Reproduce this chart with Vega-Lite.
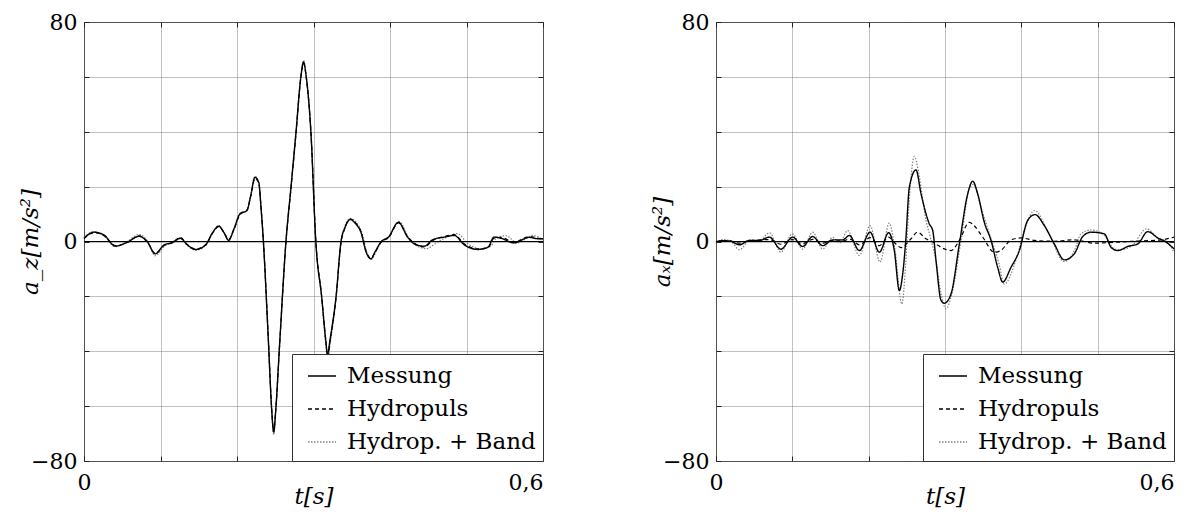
{
  "$schema": "https://vega.github.io/schema/vega-lite/v6.json",
  "background": "white",
  "padding": {"left": 18, "top": 10, "right": 5, "bottom": 5},
  "config": {
    "font": "DejaVu Serif",
    "view": {"stroke": "#222", "strokeWidth": 1},
    "axis": {
      "labelFont": "DejaVu Serif", "labelFontSize": 22, "labelColor": "black",
      "titleFont": "DejaVu Serif", "titleFontSize": 23, "titleFontWeight": "normal", "titleFontStyle": "italic", "titleColor": "black",
      "tickColor": "#222", "domain": false, "labelOverlap": false, "labelFlush": false
    },
    "legend": {
      "labelFont": "DejaVu Serif", "labelFontSize": 23, "labelColor": "black", "labelLimit": 400,
      "orient": "bottom-right", "offset": 0, "padding": 7,
      "strokeColor": "#333", "fillColor": "white", "cornerRadius": 0,
      "symbolType": "stroke", "symbolSize": 784, "symbolStrokeWidth": 1.3,
      "symbolOffset": 8, "labelOffset": 10, "rowPadding": 6
    }
  },
  "datasets": {
    "lm": [{"t":0,"a":1.2},{"t":0.013,"a":3.4},{"t":0.026,"a":2.4},{"t":0.041,"a":-1.7},{"t":0.057,"a":-0.2},{"t":0.072,"a":1.9},{"t":0.083,"a":-0.2},{"t":0.093,"a":-4.5},{"t":0.105,"a":-1.2},{"t":0.115,"a":-0.5},{"t":0.126,"a":1.2},{"t":0.135,"a":-1.2},{"t":0.146,"a":-2.9},{"t":0.159,"a":-1.2},{"t":0.168,"a":3.2},{"t":0.176,"a":5.6},{"t":0.183,"a":3.2},{"t":0.189,"a":0.4},{"t":0.196,"a":4.6},{"t":0.204,"a":10.1},{"t":0.213,"a":11.3},{"t":0.218,"a":16.8},{"t":0.2235,"a":23.4},{"t":0.2285,"a":21.5},{"t":0.2315,"a":12},{"t":0.2345,"a":0},{"t":0.241,"a":-36},{"t":0.2455,"a":-62},{"t":0.248,"a":-69.5},{"t":0.2505,"a":-62},{"t":0.256,"a":-36},{"t":0.264,"a":0},{"t":0.2706,"a":19.8},{"t":0.277,"a":39.3},{"t":0.2835,"a":60},{"t":0.287,"a":65.4},{"t":0.2905,"a":60},{"t":0.2967,"a":39.3},{"t":0.303,"a":0},{"t":0.3107,"a":-20.3},{"t":0.316,"a":-36},{"t":0.3185,"a":-41.6},{"t":0.321,"a":-37},{"t":0.3294,"a":-20.3},{"t":0.336,"a":0},{"t":0.341,"a":5},{"t":0.348,"a":8},{"t":0.355,"a":6.5},{"t":0.362,"a":3.4},{"t":0.369,"a":-4},{"t":0.375,"a":-6.3},{"t":0.381,"a":-3.5},{"t":0.388,"a":-0.2},{"t":0.398,"a":1.6},{"t":0.411,"a":7},{"t":0.423,"a":1.6},{"t":0.434,"a":-1.2},{"t":0.445,"a":-1.7},{"t":0.456,"a":0.7},{"t":0.471,"a":1.6},{"t":0.484,"a":2.2},{"t":0.497,"a":-1.2},{"t":0.515,"a":-2.9},{"t":0.528,"a":-2.1},{"t":0.536,"a":1.6},{"t":0.545,"a":1.2},{"t":0.562,"a":-0.5},{"t":0.582,"a":1.5},{"t":0.593,"a":1},{"t":0.6,"a":1}],
    "lh": [{"t":0,"a":1},{"t":0.013,"a":3.2},{"t":0.026,"a":2.2},{"t":0.041,"a":-1.5},{"t":0.057,"a":-0.3},{"t":0.072,"a":2.1},{"t":0.083,"a":-0.3},{"t":0.093,"a":-4.3},{"t":0.105,"a":-1.4},{"t":0.115,"a":-0.4},{"t":0.126,"a":1.4},{"t":0.135,"a":-1.1},{"t":0.146,"a":-2.7},{"t":0.159,"a":-1.3},{"t":0.168,"a":3},{"t":0.176,"a":5.4},{"t":0.183,"a":3.3},{"t":0.189,"a":0.6},{"t":0.196,"a":4.4},{"t":0.204,"a":9.8},{"t":0.213,"a":11.5},{"t":0.218,"a":16.5},{"t":0.2235,"a":23},{"t":0.2285,"a":21.2},{"t":0.2315,"a":12.2},{"t":0.2345,"a":0.3},{"t":0.241,"a":-35.5},{"t":0.2455,"a":-61.5},{"t":0.248,"a":-69.2},{"t":0.2505,"a":-61.8},{"t":0.256,"a":-36.2},{"t":0.264,"a":-0.3},{"t":0.2706,"a":19.5},{"t":0.277,"a":39},{"t":0.2835,"a":59.8},{"t":0.287,"a":65},{"t":0.2905,"a":59.8},{"t":0.2967,"a":39.6},{"t":0.303,"a":0.4},{"t":0.3107,"a":-20},{"t":0.316,"a":-35.8},{"t":0.3185,"a":-41.8},{"t":0.321,"a":-37.4},{"t":0.3294,"a":-20.6},{"t":0.336,"a":-0.4},{"t":0.341,"a":4.8},{"t":0.348,"a":8.2},{"t":0.355,"a":6.8},{"t":0.362,"a":3.6},{"t":0.369,"a":-3.8},{"t":0.375,"a":-6},{"t":0.381,"a":-3.7},{"t":0.388,"a":-0.4},{"t":0.398,"a":1.4},{"t":0.411,"a":6.8},{"t":0.423,"a":1.8},{"t":0.434,"a":-1},{"t":0.445,"a":-2},{"t":0.456,"a":0.4},{"t":0.471,"a":1.8},{"t":0.484,"a":2.5},{"t":0.497,"a":-0.8},{"t":0.515,"a":-2.7},{"t":0.528,"a":-2.3},{"t":0.536,"a":1.2},{"t":0.545,"a":1.5},{"t":0.562,"a":-0.3},{"t":0.582,"a":1.8},{"t":0.593,"a":1.2},{"t":0.6,"a":0.8}],
    "lb": [{"t":0,"a":1.5},{"t":0.013,"a":3.6},{"t":0.026,"a":2},{"t":0.041,"a":-1.9},{"t":0.057,"a":0.1},{"t":0.072,"a":2.6},{"t":0.083,"a":0.2},{"t":0.093,"a":-5.2},{"t":0.105,"a":-1.8},{"t":0.115,"a":-0.2},{"t":0.126,"a":1},{"t":0.135,"a":-1.5},{"t":0.146,"a":-3.2},{"t":0.159,"a":-1.5},{"t":0.168,"a":3},{"t":0.176,"a":5.8},{"t":0.183,"a":3.4},{"t":0.189,"a":0.8},{"t":0.196,"a":4.2},{"t":0.204,"a":10.4},{"t":0.213,"a":11},{"t":0.218,"a":17.2},{"t":0.2235,"a":23.8},{"t":0.2285,"a":21},{"t":0.2315,"a":11.5},{"t":0.2345,"a":-0.5},{"t":0.241,"a":-37},{"t":0.2455,"a":-63},{"t":0.248,"a":-70.5},{"t":0.2505,"a":-62.5},{"t":0.256,"a":-36.5},{"t":0.264,"a":0.5},{"t":0.2706,"a":20.5},{"t":0.277,"a":40},{"t":0.2835,"a":60.5},{"t":0.287,"a":66},{"t":0.2905,"a":60.5},{"t":0.2967,"a":39.8},{"t":0.303,"a":0.5},{"t":0.3107,"a":-21},{"t":0.316,"a":-37.5},{"t":0.3185,"a":-43.5},{"t":0.3215,"a":-38},{"t":0.3294,"a":-21},{"t":0.336,"a":0.3},{"t":0.341,"a":5.5},{"t":0.3485,"a":8.4},{"t":0.356,"a":7},{"t":0.363,"a":3.5},{"t":0.37,"a":-4.2},{"t":0.376,"a":-6.5},{"t":0.382,"a":-3.5},{"t":0.389,"a":0},{"t":0.399,"a":1.8},{"t":0.412,"a":7.3},{"t":0.424,"a":1.5},{"t":0.436,"a":-1.8},{"t":0.448,"a":-2.6},{"t":0.459,"a":-0.8},{"t":0.473,"a":1.4},{"t":0.488,"a":2.9},{"t":0.501,"a":-0.6},{"t":0.518,"a":-2.6},{"t":0.531,"a":-1.8},{"t":0.54,"a":1.5},{"t":0.552,"a":2.1},{"t":0.566,"a":-0.5},{"t":0.587,"a":2.2},{"t":0.6,"a":0.6}],
    "rm": [{"t":0,"a":-0.2},{"t":0.008,"a":0.3},{"t":0.018,"a":0.2},{"t":0.0306,"a":-1.2},{"t":0.0437,"a":0.4},{"t":0.057,"a":0.4},{"t":0.07,"a":1.6},{"t":0.085,"a":-2.8},{"t":0.1004,"a":1.6},{"t":0.1135,"a":-1.8},{"t":0.1266,"a":1.8},{"t":0.1397,"a":-1.5},{"t":0.1528,"a":0.6},{"t":0.166,"a":0.6},{"t":0.1747,"a":2.2},{"t":0.1878,"a":-3.3},{"t":0.2018,"a":3.4},{"t":0.214,"a":-3.9},{"t":0.2262,"a":3.2},{"t":0.2336,"a":-3.3},{"t":0.2402,"a":-17.9},{"t":0.2445,"a":-12},{"t":0.2485,"a":0},{"t":0.2533,"a":19.8},{"t":0.262,"a":26.1},{"t":0.2686,"a":17.4},{"t":0.2795,"a":6.4},{"t":0.2839,"a":4},{"t":0.2882,"a":-6.9},{"t":0.2948,"a":-21.5},{"t":0.2991,"a":-22.5},{"t":0.3079,"a":-19.1},{"t":0.3188,"a":-0.9},{"t":0.3298,"a":17.4},{"t":0.3363,"a":22},{"t":0.3428,"a":17.4},{"t":0.3515,"a":7},{"t":0.3603,"a":0.4},{"t":0.369,"a":-9.4},{"t":0.3756,"a":-14.8},{"t":0.3865,"a":-9.4},{"t":0.3974,"a":-3.3},{"t":0.4083,"a":7.7},{"t":0.418,"a":9.8},{"t":0.4301,"a":5.8},{"t":0.4432,"a":-0.9},{"t":0.4563,"a":-6.7},{"t":0.4694,"a":-4.5},{"t":0.4804,"a":1.8},{"t":0.4913,"a":3.4},{"t":0.5087,"a":2.8},{"t":0.5175,"a":-2.1},{"t":0.5263,"a":-3.3},{"t":0.5394,"a":-1.8},{"t":0.5525,"a":-0.9},{"t":0.5656,"a":3.6},{"t":0.5787,"a":1.3},{"t":0.5896,"a":-0.2},{"t":0.6,"a":-2.7}],
    "rh": [{"t":0,"a":0},{"t":0.015,"a":0.3},{"t":0.0306,"a":-0.6},{"t":0.045,"a":0.3},{"t":0.07,"a":0.7},{"t":0.085,"a":-1},{"t":0.1,"a":0.7},{"t":0.113,"a":-0.8},{"t":0.127,"a":0.8},{"t":0.14,"a":-0.6},{"t":0.153,"a":0.3},{"t":0.166,"a":0.2},{"t":0.175,"a":0.9},{"t":0.188,"a":-1.2},{"t":0.202,"a":1.4},{"t":0.214,"a":-1.5},{"t":0.226,"a":1.6},{"t":0.236,"a":-1},{"t":0.2424,"a":-2.2},{"t":0.2555,"a":1},{"t":0.264,"a":3.4},{"t":0.275,"a":1},{"t":0.2839,"a":-0.2},{"t":0.2991,"a":-2.7},{"t":0.3079,"a":-3.3},{"t":0.3188,"a":0.4},{"t":0.3319,"a":7},{"t":0.338,"a":5.8},{"t":0.3494,"a":1.6},{"t":0.3646,"a":-3.9},{"t":0.373,"a":-3.3},{"t":0.3865,"a":0.6},{"t":0.3996,"a":1.3},{"t":0.4174,"a":0.4},{"t":0.443,"a":0.1},{"t":0.469,"a":0.6},{"t":0.4956,"a":-0.6},{"t":0.5219,"a":-0.3},{"t":0.5481,"a":0.1},{"t":0.583,"a":0.6},{"t":0.6,"a":1.6}],
    "rb": [{"t":0,"a":-0.5},{"t":0.01,"a":0.8},{"t":0.02,"a":0},{"t":0.0306,"a":-3},{"t":0.045,"a":0.6},{"t":0.057,"a":0.2},{"t":0.07,"a":3.2},{"t":0.085,"a":-3.9},{"t":0.1,"a":2.8},{"t":0.1135,"a":-2.8},{"t":0.1266,"a":3.4},{"t":0.1397,"a":-2.7},{"t":0.153,"a":1.5},{"t":0.162,"a":-0.5},{"t":0.1725,"a":4},{"t":0.1878,"a":-5.1},{"t":0.2018,"a":5.8},{"t":0.2149,"a":-7.5},{"t":0.227,"a":6.7},{"t":0.2345,"a":-3},{"t":0.2435,"a":-22.8},{"t":0.2485,"a":-8},{"t":0.2525,"a":12},{"t":0.2598,"a":31},{"t":0.265,"a":25.9},{"t":0.271,"a":14.9},{"t":0.2751,"a":7.7},{"t":0.2795,"a":2.9},{"t":0.288,"a":-6.9},{"t":0.2948,"a":-19},{"t":0.3013,"a":-24.5},{"t":0.309,"a":-19},{"t":0.321,"a":0.4},{"t":0.332,"a":19.4},{"t":0.3375,"a":20.8},{"t":0.346,"a":13.6},{"t":0.357,"a":3.8},{"t":0.371,"a":-8.4},{"t":0.3775,"a":-15.5},{"t":0.394,"a":-5.8},{"t":0.405,"a":5},{"t":0.4174,"a":11.3},{"t":0.435,"a":3.6},{"t":0.4563,"a":-7.3},{"t":0.47,"a":-3},{"t":0.478,"a":2.8},{"t":0.4913,"a":4.2},{"t":0.508,"a":2.5},{"t":0.5219,"a":-2.7},{"t":0.53,"a":-3},{"t":0.545,"a":-1.5},{"t":0.564,"a":4.6},{"t":0.578,"a":1.5},{"t":0.59,"a":0},{"t":0.6,"a":-3.9}]
  },
  "hconcat": [
    {
      "width": 459, "height": 439,
      "layer": [
        {
          "encoding": {
            "x": {"field": "t", "type": "quantitative", "scale": {"domain": [0, 0.6], "nice": false, "zero": false},
              "axis": {"orient": "bottom", "values": [0, 0.1, 0.2, 0.3, 0.4, 0.5, 0.6], "grid": true, "gridDash": [1, 1], "gridColor": "#808080", "gridWidth": 1, "ticks": true, "tickSize": -5, "labelPadding": 16,
                "labelFont": "DejaVu Serif", "labelFontSize": 22, "titleFont": "DejaVu Serif", "titleFontSize": 23, "titleFontStyle": "italic",
                "labelExpr": "datum.value == 0 ? '0' : datum.value == 0.6 ? '0,6' : ''",
                "labelAlign": {"condition": {"test": "datum.value == 0.6", "value": "right"}, "value": "center"},
                "title": "t[s]", "titleY": 24, "titleBaseline": "top"}},
            "y": {"field": "a", "type": "quantitative", "scale": {"domain": [-80, 80], "nice": false},
              "axis": {"orient": "left", "values": [-80, -60, -40, -20, 0, 20, 40, 60, 80], "grid": true, "gridDash": [1, 1], "gridColor": "#808080", "gridWidth": 1, "ticks": true, "tickSize": -5, "labelPadding": 12,
                "labelFont": "DejaVu Serif", "labelFontSize": 22, "titleFont": "DejaVu Serif", "titleFontSize": 23, "titleFontStyle": "italic",
                "labelBaseline": "middle",
                "labelExpr": "datum.value == 80 ? '80' : datum.value == 0 ? '0' : datum.value == -80 ? '−80' : ''",
                "title": "a_z[m/s²]", "titleX": -42, "titleBaseline": "bottom"}}
          },
          "layer": [
            {"data": {"name": "lb"}, "mark": {"type": "line", "interpolate": "monotone", "strokeWidth": 1.2},
              "encoding": {"color": {"datum": "Hydrop. + Band", "type": "nominal", "scale": {"domain": ["Messung", "Hydropuls", "Hydrop. + Band"], "range": ["black", "black", "#808080"]}, "legend": {"title": null}},
                "strokeDash": {"datum": "Hydrop. + Band", "type": "nominal", "scale": {"domain": ["Messung", "Hydropuls", "Hydrop. + Band"], "range": [[1, 0], [4, 3], [1.5, 1.5]]}, "legend": {"title": null}}}},
            {"data": {"name": "lh"}, "mark": {"type": "line", "interpolate": "monotone", "strokeWidth": 1.2},
              "encoding": {"color": {"datum": "Hydropuls", "type": "nominal"}, "strokeDash": {"datum": "Hydropuls", "type": "nominal"}}},
            {"data": {"name": "lm"}, "mark": {"type": "line", "interpolate": "monotone", "strokeWidth": 1.4},
              "encoding": {"color": {"datum": "Messung", "type": "nominal"}, "strokeDash": {"datum": "Messung", "type": "nominal"}}}
          ]
        },
        {
          "data": {"values": [{}]},
          "mark": {"type": "rule", "color": "black", "strokeWidth": 1},
          "encoding": {
            "x": {"datum": 0, "type": "quantitative", "scale": {"domain": [0, 0.6], "nice": false, "zero": false},
              "axis": {"orient": "top", "values": [0, 0.1, 0.2, 0.3, 0.4, 0.5, 0.6], "grid": false, "labels": false, "ticks": true, "tickSize": -5, "title": null}},
            "x2": {"datum": 0.6},
            "y": {"datum": 0, "type": "quantitative", "scale": {"domain": [-80, 80], "nice": false},
              "axis": {"orient": "right", "values": [-80, -60, -40, -20, 0, 20, 40, 60, 80], "grid": false, "labels": false, "ticks": true, "tickSize": -5, "title": null}}
          }
        }
      ],
      "resolve": {"axis": {"x": "independent", "y": "independent"}}
    },
    {
      "width": 458, "height": 439,
      "layer": [
        {
          "encoding": {
            "x": {"field": "t", "type": "quantitative", "scale": {"domain": [0, 0.6], "nice": false, "zero": false},
              "axis": {"orient": "bottom", "values": [0, 0.1, 0.2, 0.3, 0.4, 0.5, 0.6], "grid": true, "gridDash": [1, 1], "gridColor": "#808080", "gridWidth": 1, "ticks": true, "tickSize": -5, "labelPadding": 16,
                "labelFont": "DejaVu Serif", "labelFontSize": 22, "titleFont": "DejaVu Serif", "titleFontSize": 23, "titleFontStyle": "italic",
                "labelExpr": "datum.value == 0 ? '0' : datum.value == 0.6 ? '0,6' : ''",
                "labelAlign": {"condition": {"test": "datum.value == 0.6", "value": "right"}, "value": "center"},
                "title": "t[s]", "titleY": 24, "titleBaseline": "top"}},
            "y": {"field": "a", "type": "quantitative", "scale": {"domain": [-80, 80], "nice": false},
              "axis": {"orient": "left", "values": [-80, -60, -40, -20, 0, 20, 40, 60, 80], "grid": true, "gridDash": [1, 1], "gridColor": "#808080", "gridWidth": 1, "ticks": true, "tickSize": -5, "labelPadding": 12,
                "labelFont": "DejaVu Serif", "labelFontSize": 22, "titleFont": "DejaVu Serif", "titleFontSize": 23, "titleFontStyle": "italic",
                "labelBaseline": "middle",
                "labelExpr": "datum.value == 80 ? '80' : datum.value == 0 ? '0' : datum.value == -80 ? '−80' : ''",
                "title": "aₓ[m/s²]", "titleX": -42, "titleBaseline": "bottom"}}
          },
          "layer": [
            {"data": {"name": "rb"}, "mark": {"type": "line", "interpolate": "monotone", "strokeWidth": 1.2},
              "encoding": {"color": {"datum": "Hydrop. + Band", "type": "nominal", "scale": {"domain": ["Messung", "Hydropuls", "Hydrop. + Band"], "range": ["black", "black", "#808080"]}, "legend": {"title": null}},
                "strokeDash": {"datum": "Hydrop. + Band", "type": "nominal", "scale": {"domain": ["Messung", "Hydropuls", "Hydrop. + Band"], "range": [[1, 0], [4, 3], [1.5, 1.5]]}, "legend": {"title": null}}}},
            {"data": {"name": "rh"}, "mark": {"type": "line", "interpolate": "monotone", "strokeWidth": 1.2},
              "encoding": {"color": {"datum": "Hydropuls", "type": "nominal"}, "strokeDash": {"datum": "Hydropuls", "type": "nominal"}}},
            {"data": {"name": "rm"}, "mark": {"type": "line", "interpolate": "monotone", "strokeWidth": 1.4},
              "encoding": {"color": {"datum": "Messung", "type": "nominal"}, "strokeDash": {"datum": "Messung", "type": "nominal"}}}
          ]
        },
        {
          "data": {"values": [{}]},
          "mark": {"type": "rule", "color": "black", "strokeWidth": 1},
          "encoding": {
            "x": {"datum": 0, "type": "quantitative", "scale": {"domain": [0, 0.6], "nice": false, "zero": false},
              "axis": {"orient": "top", "values": [0, 0.1, 0.2, 0.3, 0.4, 0.5, 0.6], "grid": false, "labels": false, "ticks": true, "tickSize": -5, "title": null}},
            "x2": {"datum": 0.6},
            "y": {"datum": 0, "type": "quantitative", "scale": {"domain": [-80, 80], "nice": false},
              "axis": {"orient": "right", "values": [-80, -60, -40, -20, 0, 20, 40, 60, 80], "grid": false, "labels": false, "ticks": true, "tickSize": -5, "title": null}}
          }
        }
      ],
      "resolve": {"axis": {"x": "independent", "y": "independent"}}
    }
  ],
  "spacing": 173,
  "bounds": "flush",
  "resolve": {"scale": {"color": "independent", "strokeDash": "independent"}, "legend": {"color": "independent", "strokeDash": "independent"}}
}
